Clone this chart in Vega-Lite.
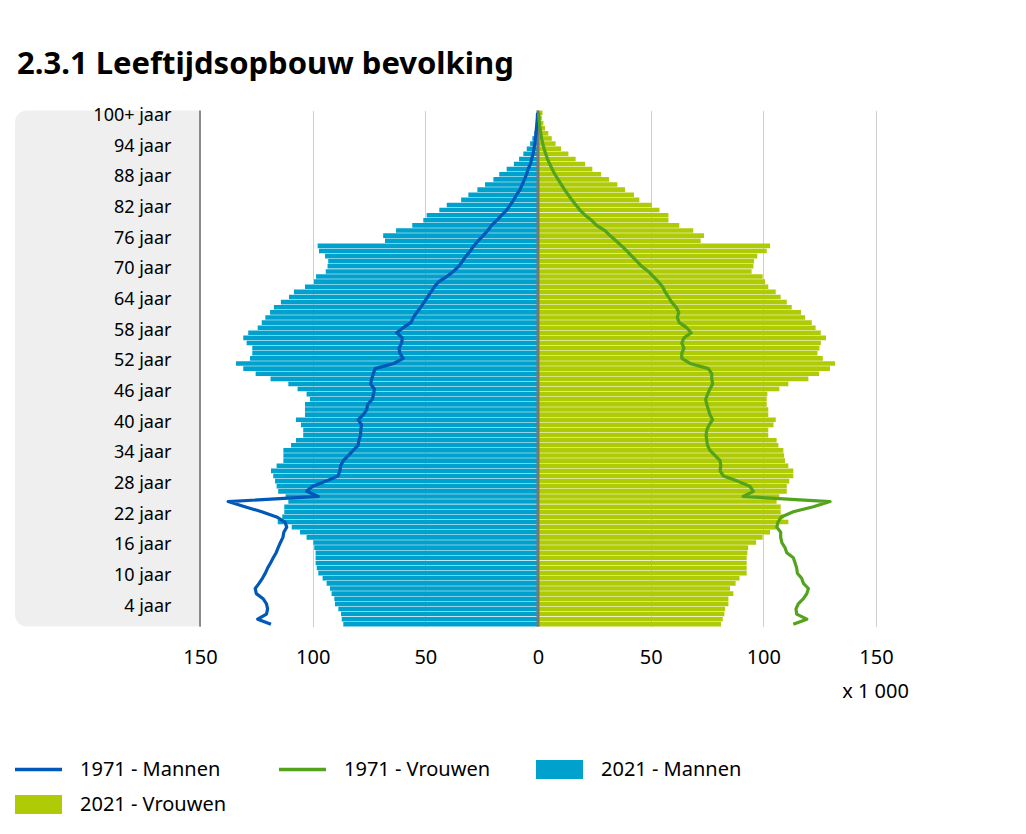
{
"$schema": "https://vega.github.io/schema/vega-lite/v6.json",
"width": 861, "height": 516,
"autosize": {"type": "none"},
"padding": {"left": 15, "top": 110.6, "right": 150, "bottom": 207.4},
"background": "#ffffff",
"title": {"text": "2.3.1 Leeftijdsopbouw bevolking", "anchor": "start", "frame": "group", "font": "Noto Sans", "fontSize": 31, "fontWeight": "bold", "color": "#000000", "offset": 25, "dx": 2},
"config": {"view": {"stroke": null}, "font": "Noto Sans",
  "axisX": {"domain": false, "ticks": false, "tickSize": 0, "labelPadding": 20.6, "labelFont": "Noto Sans", "labelFontSize": 20, "labelColor": "#000000", "grid": true, "gridColor": "#cfcfcf", "gridWidth": 1, "titleFont": "Noto Sans", "titleFontSize": 20, "titleFontWeight": "normal", "titleColor": "#000000", "titleX": 860, "titleY": 64.4, "titleAlign": "center", "titleBaseline": "middle", "labelFlush": false, "labelOverlap": false},
  "axisY": {"domain": false, "ticks": false, "tickSize": 0, "labelPadding": -156, "labelAlign": "right", "labelOffset": 3, "labelFont": "Noto Sans", "labelFontSize": 18, "labelColor": "#000000", "grid": false}
},
"data": {"values": [
{"leeftijd":0,"m71":-118.5,"v71":113.3,"m21":-86.4,"v21":81.2},
{"leeftijd":1,"m71":-124.4,"v71":119.3,"m21":-87.1,"v21":82.0},
{"leeftijd":2,"m71":-120.5,"v71":114.8,"m21":-87.4,"v21":82.7},
{"leeftijd":3,"m71":-120.0,"v71":114.5,"m21":-88.6,"v21":83.0},
{"leeftijd":4,"m71":-120.5,"v71":115.5,"m21":-90.1,"v21":84.5},
{"leeftijd":5,"m71":-122.0,"v71":117.8,"m21":-90.4,"v21":84.5},
{"leeftijd":6,"m71":-125.0,"v71":119.3,"m21":-91.6,"v21":86.7},
{"leeftijd":7,"m71":-125.5,"v71":120.0,"m21":-92.3,"v21":85.2},
{"leeftijd":8,"m71":-123.8,"v71":117.8,"m21":-93.8,"v21":87.7},
{"leeftijd":9,"m71":-122.3,"v71":117.0,"m21":-95.6,"v21":89.4},
{"leeftijd":10,"m71":-121.0,"v71":115.1,"m21":-97.5,"v21":92.6},
{"leeftijd":11,"m71":-120.0,"v71":114.8,"m21":-98.2,"v21":92.6},
{"leeftijd":12,"m71":-118.7,"v71":114.1,"m21":-98.7,"v21":92.6},
{"leeftijd":13,"m71":-117.5,"v71":113.3,"m21":-98.7,"v21":92.6},
{"leeftijd":14,"m71":-116.2,"v71":110.4,"m21":-98.7,"v21":92.9},
{"leeftijd":15,"m71":-115.3,"v71":109.6,"m21":-99.3,"v21":93.3},
{"leeftijd":16,"m71":-114.3,"v71":108.2,"m21":-99.7,"v21":96.8},
{"leeftijd":17,"m71":-113.2,"v71":107.7,"m21":-102.7,"v21":99.7},
{"leeftijd":18,"m71":-112.8,"v71":107.7,"m21":-105.6,"v21":103.0},
{"leeftijd":19,"m71":-111.5,"v71":106.0,"m21":-109.3,"v21":105.9},
{"leeftijd":20,"m71":-112.3,"v71":106.5,"m21":-115.5,"v21":111.1},
{"leeftijd":21,"m71":-116.0,"v71":108.0,"m21":-113.5,"v21":108.9},
{"leeftijd":22,"m71":-122.6,"v71":113.3,"m21":-112.6,"v21":107.7},
{"leeftijd":23,"m71":-130.1,"v71":122.2,"m21":-112.6,"v21":107.7},
{"leeftijd":24,"m71":-137.5,"v71":129.6,"m21":-110.8,"v21":105.9},
{"leeftijd":25,"m71":-97.5,"v71":91.0,"m21":-112.0,"v21":107.1},
{"leeftijd":26,"m71":-102.7,"v71":95.6,"m21":-115.3,"v21":110.4},
{"leeftijd":27,"m71":-100.0,"v71":94.0,"m21":-116.0,"v21":110.4},
{"leeftijd":28,"m71":-94.0,"v71":88.5,"m21":-116.7,"v21":111.5},
{"leeftijd":29,"m71":-88.8,"v71":82.3,"m21":-117.5,"v21":113.3},
{"leeftijd":30,"m71":-87.9,"v71":80.8,"m21":-118.5,"v21":113.3},
{"leeftijd":31,"m71":-87.6,"v71":81.1,"m21":-116.0,"v21":111.1},
{"leeftijd":32,"m71":-86.4,"v71":80.8,"m21":-113.0,"v21":109.6},
{"leeftijd":33,"m71":-84.2,"v71":78.6,"m21":-113.0,"v21":109.2},
{"leeftijd":34,"m71":-82.0,"v71":76.3,"m21":-113.0,"v21":108.9},
{"leeftijd":35,"m71":-79.8,"v71":75.2,"m21":-109.6,"v21":106.7},
{"leeftijd":36,"m71":-79.5,"v71":74.9,"m21":-107.4,"v21":105.9},
{"leeftijd":37,"m71":-78.7,"v71":74.6,"m21":-104.2,"v21":102.2},
{"leeftijd":38,"m71":-78.7,"v71":74.9,"m21":-104.2,"v21":102.2},
{"leeftijd":39,"m71":-78.3,"v71":76.0,"m21":-105.2,"v21":104.5},
{"leeftijd":40,"m71":-79.8,"v71":77.5,"m21":-107.4,"v21":105.5},
{"leeftijd":41,"m71":-77.5,"v71":76.3,"m21":-103.4,"v21":102.2},
{"leeftijd":42,"m71":-76.0,"v71":75.6,"m21":-103.4,"v21":102.2},
{"leeftijd":43,"m71":-75.6,"v71":74.9,"m21":-103.4,"v21":101.5},
{"leeftijd":44,"m71":-73.5,"v71":74.4,"m21":-101.2,"v21":101.5},
{"leeftijd":45,"m71":-73.0,"v71":75.3,"m21":-102.7,"v21":101.8},
{"leeftijd":46,"m71":-72.6,"v71":76.3,"m21":-106.7,"v21":107.1},
{"leeftijd":47,"m71":-74.3,"v71":77.5,"m21":-110.8,"v21":111.1},
{"leeftijd":48,"m71":-73.8,"v71":77.1,"m21":-118.7,"v21":120.0},
{"leeftijd":49,"m71":-73.1,"v71":77.1,"m21":-125.3,"v21":124.7},
{"leeftijd":50,"m71":-72.3,"v71":75.6,"m21":-130.8,"v21":129.6},
{"leeftijd":51,"m71":-64.0,"v71":67.5,"m21":-134.0,"v21":131.8},
{"leeftijd":52,"m71":-59.8,"v71":63.8,"m21":-127.8,"v21":126.4},
{"leeftijd":53,"m71":-61.3,"v71":63.8,"m21":-126.8,"v21":124.0},
{"leeftijd":54,"m71":-61.7,"v71":64.8,"m21":-126.8,"v21":124.9},
{"leeftijd":55,"m71":-60.5,"v71":63.8,"m21":-129.3,"v21":125.5},
{"leeftijd":56,"m71":-60.2,"v71":64.8,"m21":-130.8,"v21":127.8},
{"leeftijd":57,"m71":-62.7,"v71":68.0,"m21":-128.6,"v21":125.5},
{"leeftijd":58,"m71":-59.8,"v71":66.0,"m21":-124.4,"v21":123.2},
{"leeftijd":59,"m71":-56.4,"v71":62.7,"m21":-122.6,"v21":121.5},
{"leeftijd":60,"m71":-55.3,"v71":61.8,"m21":-121.0,"v21":118.5},
{"leeftijd":61,"m71":-53.8,"v71":62.5,"m21":-118.9,"v21":116.7},
{"leeftijd":62,"m71":-52.0,"v71":61.3,"m21":-117.2,"v21":112.6},
{"leeftijd":63,"m71":-50.5,"v71":59.3,"m21":-114.1,"v21":110.4},
{"leeftijd":64,"m71":-49.0,"v71":57.9,"m21":-110.5,"v21":107.7},
{"leeftijd":65,"m71":-47.5,"v71":56.4,"m21":-108.3,"v21":105.5},
{"leeftijd":66,"m71":-46.0,"v71":55.3,"m21":-103.4,"v21":102.2},
{"leeftijd":67,"m71":-44.0,"v71":53.4,"m21":-99.4,"v21":100.8},
{"leeftijd":68,"m71":-40.5,"v71":51.2,"m21":-98.5,"v21":99.7},
{"leeftijd":69,"m71":-37.5,"v71":49.0,"m21":-94.2,"v21":94.8},
{"leeftijd":70,"m71":-35.2,"v71":46.0,"m21":-93.4,"v21":95.6},
{"leeftijd":71,"m71":-33.5,"v71":43.8,"m21":-93.1,"v21":95.9},
{"leeftijd":72,"m71":-32.0,"v71":41.6,"m21":-94.5,"v21":97.3},
{"leeftijd":73,"m71":-30.0,"v71":39.4,"m21":-97.2,"v21":101.5},
{"leeftijd":74,"m71":-28.5,"v71":37.1,"m21":-97.8,"v21":103.0},
{"leeftijd":75,"m71":-26.5,"v71":34.6,"m21":-67.9,"v21":72.2},
{"leeftijd":76,"m71":-24.3,"v71":32.0,"m21":-68.7,"v21":73.7},
{"leeftijd":77,"m71":-22.3,"v71":29.7,"m21":-63.0,"v21":68.9},
{"leeftijd":78,"m71":-20.6,"v71":26.0,"m21":-55.8,"v21":62.7},
{"leeftijd":79,"m71":-18.3,"v71":23.8,"m21":-50.9,"v21":57.9},
{"leeftijd":80,"m71":-16.1,"v71":20.9,"m21":-49.4,"v21":57.9},
{"leeftijd":81,"m71":-13.9,"v71":18.6,"m21":-43.8,"v21":53.9},
{"leeftijd":82,"m71":-12.3,"v71":16.8,"m21":-40.5,"v21":50.5},
{"leeftijd":83,"m71":-10.8,"v71":15.0,"m21":-34.1,"v21":45.0},
{"leeftijd":84,"m71":-9.5,"v71":13.4,"m21":-30.9,"v21":42.6},
{"leeftijd":85,"m71":-8.0,"v71":11.8,"m21":-26.9,"v21":38.6},
{"leeftijd":86,"m71":-7.0,"v71":10.3,"m21":-23.5,"v21":35.2},
{"leeftijd":87,"m71":-6.0,"v71":8.9,"m21":-19.8,"v21":31.5},
{"leeftijd":88,"m71":-5.1,"v71":7.5,"m21":-17.2,"v21":28.0},
{"leeftijd":89,"m71":-4.4,"v71":6.3,"m21":-13.9,"v21":24.1},
{"leeftijd":90,"m71":-3.4,"v71":5.2,"m21":-10.7,"v21":20.9},
{"leeftijd":91,"m71":-2.8,"v71":4.2,"m21":-8.4,"v21":16.7},
{"leeftijd":92,"m71":-2.2,"v71":3.4,"m21":-6.5,"v21":13.5},
{"leeftijd":93,"m71":-1.8,"v71":2.7,"m21":-5.0,"v21":10.2},
{"leeftijd":94,"m71":-1.4,"v71":2.1,"m21":-3.5,"v21":7.8},
{"leeftijd":95,"m71":-1.1,"v71":1.6,"m21":-2.5,"v21":6.1},
{"leeftijd":96,"m71":-0.9,"v71":1.2,"m21":-1.6,"v21":4.6},
{"leeftijd":97,"m71":-0.7,"v71":0.9,"m21":-1.2,"v21":3.1},
{"leeftijd":98,"m71":-0.5,"v71":0.6,"m21":-0.8,"v21":2.4},
{"leeftijd":99,"m71":-0.3,"v71":0.4,"m21":-0.5,"v21":1.7},
{"leeftijd":100,"m71":-0.2,"v71":0.3,"m21":-0.5,"v21":2.0}
]},
"layer": [
 {"data": {"values": [{}]},
  "mark": {"type": "rect", "color": "#efefef", "cornerRadiusTopLeft": 12, "cornerRadiusBottomLeft": 12},
  "encoding": {"x": {"datum": -232.1, "type": "quantitative", "title": "x 1 000"}, "x2": {"datum": -150}}},
 {"transform": [{"fold": ["m71", "v71", "m21", "v21"], "as": ["reeks", "waarde"]}, {"filter": "datum.reeks === 'm21' || datum.reeks === 'v21'"}],
  "mark": {"type": "bar"},
  "encoding": {
   "x": {"field": "waarde", "type": "quantitative", "title": "x 1 000", "scale": {"domain": [-232.1, 150], "nice": false, "zero": false},
     "axis": {"values": [-150, -100, -50, 0, 50, 100, 150], "labelExpr": "abs(datum.value)"}},
   "y": {"field": "leeftijd", "type": "ordinal", "sort": "descending", "title": null,
     "scale": {"type": "band", "paddingInner": 0.1, "paddingOuter": 0},
     "axis": {"zindex": 2, "values": [4, 10, 16, 22, 28, 34, 40, 46, 52, 58, 64, 70, 76, 82, 88, 94, 100], "labelExpr": "datum.value == 100 ? '100+ jaar' : datum.value + ' jaar'"}},
   "color": {"field": "reeks", "type": "nominal",
     "scale": {"domain": ["m71", "v71", "m21", "v21"], "range": ["#0058b8", "#53a31d", "#00a1cd", "#afcb05"]},
     "legend": {"title": null, "orient": "none", "direction": "horizontal", "legendX": 13.5, "legendY": 649, "columns": 3, "columnPadding": 45, "rowPadding": 15, "padding": 0,
       "values": ["m71", "v71", "m21", "v21"],
       "labelExpr": "datum.value === 'm71' ? '1971 - Mannen' : datum.value === 'v71' ? '1971 - Vrouwen' : datum.value === 'm21' ? '2021 - Mannen' : '2021 - Vrouwen'",
       "symbolSize": 400, "labelFont": "Noto Sans", "labelFontSize": 20, "labelColor": "#000000", "labelOffset": 31.5, "labelLimit": 400,
       "encode": {"symbols": {"update": {
         "shape": {"signal": "(datum.value === 'm71' || datum.value === 'v71') ? 'M-2.35,0H2.35' : 'M-2.35,-0.95H2.35V0.95H-2.35Z'"},
         "fill": {"signal": "datum.value === 'm21' ? '#00a1cd' : (datum.value === 'v21' ? '#afcb05' : 'transparent')"},
         "stroke": {"signal": "datum.value === 'm71' ? '#0058b8' : (datum.value === 'v71' ? '#53a31d' : 'transparent')"},
         "strokeWidth": {"signal": "(datum.value === 'm71' || datum.value === 'v71') ? 3.5 : 0"}}}}}}
  }},
 {"data": {"values": [{}]},
  "mark": {"type": "rule", "color": "#8a8a8a", "strokeWidth": 2},
  "encoding": {"x": {"datum": -150, "type": "quantitative", "title": "x 1 000"}}},
 {"data": {"values": [{}]},
  "mark": {"type": "rule", "color": "#767676", "strokeWidth": 3},
  "encoding": {"x": {"datum": 0, "type": "quantitative", "title": "x 1 000"}}},
 {"transform": [{"fold": ["m71", "v71", "m21", "v21"], "as": ["reeks", "waarde"]}, {"filter": "datum.reeks === 'm71' || datum.reeks === 'v71'"}],
  "mark": {"type": "line", "strokeWidth": 3.2, "strokeJoin": "round"},
  "encoding": {
   "x": {"field": "waarde", "type": "quantitative", "title": "x 1 000"},
   "y": {"field": "leeftijd", "type": "ordinal", "sort": "descending", "title": null,
     "axis": {"zindex": 2, "values": [4, 10, 16, 22, 28, 34, 40, 46, 52, 58, 64, 70, 76, 82, 88, 94, 100], "labelExpr": "datum.value == 100 ? '100+ jaar' : datum.value + ' jaar'"}},
   "color": {"field": "reeks", "type": "nominal", "scale": {"domain": ["m71", "v71", "m21", "v21"], "range": ["#0058b8", "#53a31d", "#00a1cd", "#afcb05"]}},
   "order": {"field": "leeftijd", "type": "quantitative"}
  }}
]
}
